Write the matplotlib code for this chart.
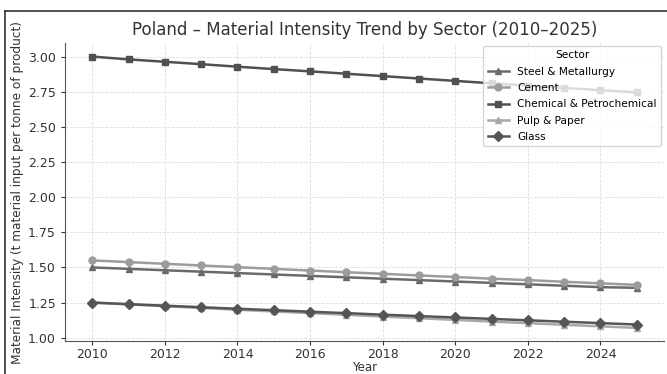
import matplotlib
matplotlib.use("Agg")
import matplotlib.pyplot as plt
from matplotlib.lines import Line2D

# Material intensity by sector, Poland 2010-2025
years = list(range(2010, 2026))
sectors = ["Steel & Metallurgy", "Cement", "Chemical & Petrochemical", "Pulp & Paper", "Glass"]

steel = [1.50, 1.49, 1.48, 1.47, 1.46, 1.45, 1.44, 1.43, 1.42, 1.41, 1.40, 1.39, 1.38, 1.37, 1.36, 1.355]
cement = [1.55, 1.538, 1.526, 1.514, 1.502, 1.49, 1.478, 1.466, 1.455, 1.443, 1.432, 1.42, 1.41, 1.398, 1.387, 1.376]
chemical = [3.00, 2.98, 2.963, 2.946, 2.928, 2.911, 2.895, 2.878, 2.861, 2.844, 2.827, 2.81, 2.794, 2.777, 2.761, 2.745]
pulp = [1.25, 1.237, 1.224, 1.212, 1.199, 1.187, 1.175, 1.163, 1.151, 1.139, 1.127, 1.115, 1.104, 1.092, 1.081, 1.07]
glass = [1.25, 1.239, 1.228, 1.217, 1.206, 1.196, 1.185, 1.175, 1.164, 1.154, 1.144, 1.134, 1.124, 1.114, 1.104, 1.094]

series = [steel, cement, chemical, pulp, glass]
colors = ["#6a6a6a", "#9c9c9c", "#505050", "#a8a8a8", "#555555"]
markers = ["^", "o", "s", "^", "D"]

fig = plt.figure(figsize=(6.67, 3.74), dpi=100)
ax = fig.add_axes([0.0975, 0.087, 0.898, 0.798])

for name, vals, c, m in zip(sectors, series, colors, markers):
    ax.plot(years, vals, color=c, marker=m, markersize=5, linewidth=1.8, label=name)

ax.set_title("Poland – Material Intensity Trend by Sector (2010–2025)", fontsize=12, color="#333333")
ax.set_xlabel("Year", fontsize=8.5, color="#333333", labelpad=0)
ax.set_ylabel("Material Intensity (t material input per tonne of product)", fontsize=8.7,
              color="#333333", labelpad=3)
ax.set_yticks([1.00, 1.25, 1.50, 1.75, 2.00, 2.25, 2.50, 2.75, 3.00])
ax.yaxis.set_major_formatter(matplotlib.ticker.FormatStrFormatter("%.2f"))
ax.tick_params(labelsize=9, colors="#333333", length=3)
ax.tick_params(axis="x", pad=2)
ax.grid(True, linestyle="--", linewidth=0.6, color="#dddddd")
for s in ["top", "right"]:
    ax.spines[s].set_visible(False)
for s in ["left", "bottom"]:
    ax.spines[s].set_color("#555555")

leg = ax.legend(title="Sector", loc="upper right", fontsize=7.6, title_fontsize=7.6,
                framealpha=0.8, borderaxespad=0.3, labelspacing=0.6)
leg.get_frame().set_edgecolor("#cccccc")

# frame around the figure
fig.add_artist(Line2D([0.0075, 0.0075], [0.0, 0.9706], color="#333333", linewidth=1.2))
fig.add_artist(Line2D([0.0075, 1.0], [0.9706, 0.9706], color="#333333", linewidth=1.2))

fig.savefig("out.png", dpi=100)
